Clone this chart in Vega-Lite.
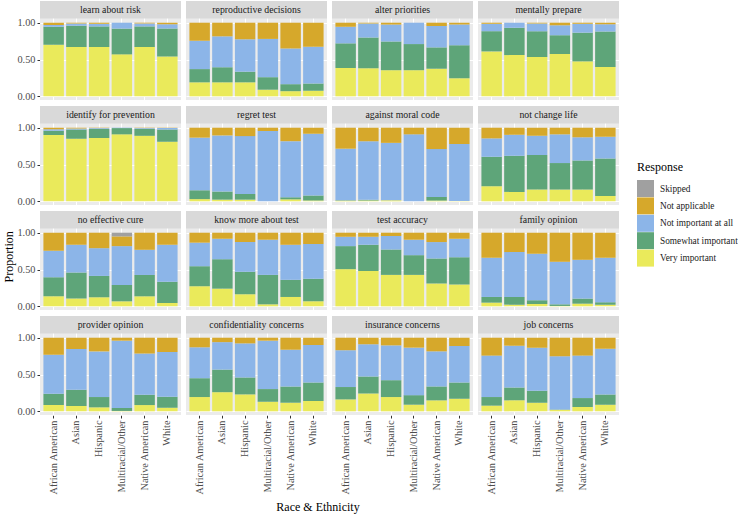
{
  "$schema": "https://vega.github.io/schema/vega-lite/v6.json",
  "background": "white",
  "padding": {"left": 2, "top": 1, "right": 0, "bottom": 3},
  "config": {
    "font": "Liberation Serif",
    "view": {"fill": "#ebebeb", "stroke": null},
    "header": {"labels": false, "title": null, "labelExpr": "''", "labelFontSize": 0, "labelPadding": 0, "titlePadding": 0},
    "axis": {"labelFont": "Liberation Serif", "labelColor": "#4d4d4d", "labelFontSize": 10.3, "tickColor": "#333333", "tickSize": 3, "domain": false, "gridColor": "#ffffff", "gridWidth": 1.1, "labelPadding": 2},
    "legend": {"titleFont": "Liberation Serif", "titleFontSize": 12, "titleFontWeight": "normal", "titleColor": "#000000", "labelFont": "Liberation Serif", "labelFontSize": 9.3, "labelColor": "#1a1a1a", "labelLimit": 200, "symbolType": "square", "symbolSize": 289, "symbolStrokeWidth": 0, "symbolOpacity": 1, "rowPadding": 0.4, "labelOffset": 6, "titlePadding": 6}
  },
  "title": {"text": "Proportion", "orient": "left", "anchor": "middle", "font": "Liberation Serif", "fontSize": 12, "fontWeight": "normal", "color": "#000000", "offset": 1},
  "data": {"values": [
    {"q":"learn about risk","race":"African American","Very important":0.70,"Somewhat important":0.245,"Not important at all":0.025,"Not applicable":0.03},
    {"q":"learn about risk","race":"Asian","Very important":0.67,"Somewhat important":0.29,"Not important at all":0.03,"Not applicable":0.01},
    {"q":"learn about risk","race":"Hispanic","Very important":0.67,"Somewhat important":0.28,"Not important at all":0.035,"Not applicable":0.015},
    {"q":"learn about risk","race":"Multiracial/Other","Very important":0.57,"Somewhat important":0.35,"Not important at all":0.08,"Not applicable":0},
    {"q":"learn about risk","race":"Native American","Very important":0.67,"Somewhat important":0.28,"Not important at all":0.04,"Not applicable":0.01},
    {"q":"learn about risk","race":"White","Very important":0.54,"Somewhat important":0.38,"Not important at all":0.06,"Not applicable":0.02},
    {"q":"reproductive decisions","race":"African American","Very important":0.19,"Somewhat important":0.18,"Not important at all":0.385,"Not applicable":0.245},
    {"q":"reproductive decisions","race":"Asian","Very important":0.19,"Somewhat important":0.205,"Not important at all":0.42,"Not applicable":0.185},
    {"q":"reproductive decisions","race":"Hispanic","Very important":0.19,"Somewhat important":0.145,"Not important at all":0.44,"Not applicable":0.225},
    {"q":"reproductive decisions","race":"Multiracial/Other","Very important":0.09,"Somewhat important":0.17,"Not important at all":0.52,"Not applicable":0.22},
    {"q":"reproductive decisions","race":"Native American","Very important":0.07,"Somewhat important":0.095,"Not important at all":0.485,"Not applicable":0.35},
    {"q":"reproductive decisions","race":"White","Very important":0.075,"Somewhat important":0.10,"Not important at all":0.50,"Not applicable":0.325},
    {"q":"alter priorities","race":"African American","Very important":0.385,"Somewhat important":0.335,"Not important at all":0.225,"Not applicable":0.055},
    {"q":"alter priorities","race":"Asian","Very important":0.38,"Somewhat important":0.42,"Not important at all":0.19,"Not applicable":0.01},
    {"q":"alter priorities","race":"Hispanic","Very important":0.355,"Somewhat important":0.39,"Not important at all":0.23,"Not applicable":0.025},
    {"q":"alter priorities","race":"Multiracial/Other","Very important":0.355,"Somewhat important":0.355,"Not important at all":0.29,"Not applicable":0},
    {"q":"alter priorities","race":"Native American","Very important":0.375,"Somewhat important":0.29,"Not important at all":0.29,"Not applicable":0.045},
    {"q":"alter priorities","race":"White","Very important":0.245,"Somewhat important":0.45,"Not important at all":0.28,"Not applicable":0.025},
    {"q":"mentally prepare","race":"African American","Very important":0.61,"Somewhat important":0.275,"Not important at all":0.10,"Not applicable":0.015},
    {"q":"mentally prepare","race":"Asian","Very important":0.56,"Somewhat important":0.37,"Not important at all":0.07,"Not applicable":0},
    {"q":"mentally prepare","race":"Hispanic","Very important":0.535,"Somewhat important":0.35,"Not important at all":0.105,"Not applicable":0.01},
    {"q":"mentally prepare","race":"Multiracial/Other","Very important":0.575,"Somewhat important":0.255,"Not important at all":0.135,"Not applicable":0.035},
    {"q":"mentally prepare","race":"Native American","Very important":0.475,"Somewhat important":0.39,"Not important at all":0.12,"Not applicable":0.015},
    {"q":"mentally prepare","race":"White","Very important":0.40,"Somewhat important":0.48,"Not important at all":0.10,"Not applicable":0.02},
    {"q":"identify for prevention","race":"African American","Very important":0.90,"Somewhat important":0.06,"Not important at all":0.02,"Not applicable":0.02},
    {"q":"identify for prevention","race":"Asian","Very important":0.85,"Somewhat important":0.125,"Not important at all":0.015,"Not applicable":0.01},
    {"q":"identify for prevention","race":"Hispanic","Very important":0.86,"Somewhat important":0.125,"Not important at all":0.01,"Not applicable":0.005},
    {"q":"identify for prevention","race":"Multiracial/Other","Very important":0.91,"Somewhat important":0.085,"Not important at all":0.005,"Not applicable":0},
    {"q":"identify for prevention","race":"Native American","Very important":0.89,"Somewhat important":0.095,"Not important at all":0.01,"Not applicable":0.005},
    {"q":"identify for prevention","race":"White","Very important":0.81,"Somewhat important":0.165,"Not important at all":0.02,"Not applicable":0.005},
    {"q":"regret test","race":"African American","Very important":0.03,"Somewhat important":0.12,"Not important at all":0.715,"Not applicable":0.135},
    {"q":"regret test","race":"Asian","Very important":0.023,"Somewhat important":0.11,"Not important at all":0.762,"Not applicable":0.105},
    {"q":"regret test","race":"Hispanic","Very important":0.023,"Somewhat important":0.077,"Not important at all":0.786,"Not applicable":0.114},
    {"q":"regret test","race":"Multiracial/Other","Very important":0,"Somewhat important":0,"Not important at all":0.955,"Not applicable":0.045},
    {"q":"regret test","race":"Native American","Very important":0.027,"Somewhat important":0.028,"Not important at all":0.762,"Not applicable":0.183},
    {"q":"regret test","race":"White","Very important":0.01,"Somewhat important":0.068,"Not important at all":0.84,"Not applicable":0.082},
    {"q":"against moral code","race":"African American","Very important":0.01,"Somewhat important":0.005,"Not important at all":0.70,"Not applicable":0.285},
    {"q":"against moral code","race":"Asian","Very important":0.01,"Somewhat important":0.013,"Not important at all":0.794,"Not applicable":0.183},
    {"q":"against moral code","race":"Hispanic","Very important":0.014,"Somewhat important":0,"Not important at all":0.78,"Not applicable":0.206},
    {"q":"against moral code","race":"Multiracial/Other","Very important":0,"Somewhat important":0,"Not important at all":0.91,"Not applicable":0.09},
    {"q":"against moral code","race":"Native American","Very important":0.01,"Somewhat important":0.05,"Not important at all":0.65,"Not applicable":0.29},
    {"q":"against moral code","race":"White","Very important":0.005,"Somewhat important":0,"Not important at all":0.775,"Not applicable":0.22},
    {"q":"not change life","race":"African American","Very important":0.205,"Somewhat important":0.40,"Not important at all":0.25,"Not applicable":0.145},
    {"q":"not change life","race":"Asian","Very important":0.128,"Somewhat important":0.49,"Not important at all":0.285,"Not applicable":0.097},
    {"q":"not change life","race":"Hispanic","Very important":0.16,"Somewhat important":0.47,"Not important at all":0.26,"Not applicable":0.11},
    {"q":"not change life","race":"Multiracial/Other","Very important":0.16,"Somewhat important":0.36,"Not important at all":0.39,"Not applicable":0.09},
    {"q":"not change life","race":"Native American","Very important":0.16,"Somewhat important":0.395,"Not important at all":0.315,"Not applicable":0.13},
    {"q":"not change life","race":"White","Very important":0.073,"Somewhat important":0.51,"Not important at all":0.295,"Not applicable":0.122},
    {"q":"no effective cure","race":"African American","Very important":0.136,"Somewhat important":0.26,"Not important at all":0.36,"Not applicable":0.244},
    {"q":"no effective cure","race":"Asian","Very important":0.105,"Somewhat important":0.355,"Not important at all":0.376,"Not applicable":0.164},
    {"q":"no effective cure","race":"Hispanic","Very important":0.123,"Somewhat important":0.29,"Not important at all":0.377,"Not applicable":0.21},
    {"q":"no effective cure","race":"Multiracial/Other","Very important":0.068,"Somewhat important":0.222,"Not important at all":0.528,"Not applicable":0.132,"Skipped":0.05},
    {"q":"no effective cure","race":"Native American","Very important":0.136,"Somewhat important":0.29,"Not important at all":0.342,"Not applicable":0.232},
    {"q":"no effective cure","race":"White","Very important":0.045,"Somewhat important":0.29,"Not important at all":0.50,"Not applicable":0.165},
    {"q":"know more about test","race":"African American","Very important":0.273,"Somewhat important":0.272,"Not important at all":0.32,"Not applicable":0.135},
    {"q":"know more about test","race":"Asian","Very important":0.24,"Somewhat important":0.40,"Not important at all":0.278,"Not applicable":0.082},
    {"q":"know more about test","race":"Hispanic","Very important":0.164,"Somewhat important":0.305,"Not important at all":0.405,"Not applicable":0.126},
    {"q":"know more about test","race":"Multiracial/Other","Very important":0.027,"Somewhat important":0.40,"Not important at all":0.478,"Not applicable":0.095},
    {"q":"know more about test","race":"Native American","Very important":0.127,"Somewhat important":0.233,"Not important at all":0.476,"Not applicable":0.164},
    {"q":"know more about test","race":"White","Very important":0.068,"Somewhat important":0.305,"Not important at all":0.472,"Not applicable":0.155},
    {"q":"test accuracy","race":"African American","Very important":0.505,"Somewhat important":0.313,"Not important at all":0.127,"Not applicable":0.055},
    {"q":"test accuracy","race":"Asian","Very important":0.48,"Somewhat important":0.355,"Not important at all":0.11,"Not applicable":0.055},
    {"q":"test accuracy","race":"Hispanic","Very important":0.427,"Somewhat important":0.345,"Not important at all":0.183,"Not applicable":0.045},
    {"q":"test accuracy","race":"Multiracial/Other","Very important":0.427,"Somewhat important":0.268,"Not important at all":0.21,"Not applicable":0.095},
    {"q":"test accuracy","race":"Native American","Very important":0.31,"Somewhat important":0.34,"Not important at all":0.223,"Not applicable":0.127},
    {"q":"test accuracy","race":"White","Very important":0.295,"Somewhat important":0.37,"Not important at all":0.254,"Not applicable":0.081},
    {"q":"family opinion","race":"African American","Very important":0.05,"Somewhat important":0.077,"Not important at all":0.533,"Not applicable":0.34},
    {"q":"family opinion","race":"Asian","Very important":0.023,"Somewhat important":0.104,"Not important at all":0.61,"Not applicable":0.263},
    {"q":"family opinion","race":"Hispanic","Very important":0.032,"Somewhat important":0.05,"Not important at all":0.632,"Not applicable":0.286},
    {"q":"family opinion","race":"Multiracial/Other","Very important":0.005,"Somewhat important":0.022,"Not important at all":0.578,"Not applicable":0.395},
    {"q":"family opinion","race":"Native American","Very important":0.036,"Somewhat important":0.069,"Not important at all":0.527,"Not applicable":0.368},
    {"q":"family opinion","race":"White","Very important":0.02,"Somewhat important":0.035,"Not important at all":0.605,"Not applicable":0.34},
    {"q":"provider opinion","race":"African American","Very important":0.085,"Somewhat important":0.155,"Not important at all":0.53,"Not applicable":0.23},
    {"q":"provider opinion","race":"Asian","Very important":0.072,"Somewhat important":0.22,"Not important at all":0.555,"Not applicable":0.153},
    {"q":"provider opinion","race":"Hispanic","Very important":0.054,"Somewhat important":0.14,"Not important at all":0.62,"Not applicable":0.186},
    {"q":"provider opinion","race":"Multiracial/Other","Very important":0.005,"Somewhat important":0.04,"Not important at all":0.915,"Not applicable":0.04},
    {"q":"provider opinion","race":"Native American","Very important":0.085,"Somewhat important":0.14,"Not important at all":0.56,"Not applicable":0.215},
    {"q":"provider opinion","race":"White","Very important":0.05,"Somewhat important":0.148,"Not important at all":0.608,"Not applicable":0.194},
    {"q":"confidentiality concerns","race":"African American","Very important":0.194,"Somewhat important":0.256,"Not important at all":0.42,"Not applicable":0.13},
    {"q":"confidentiality concerns","race":"Asian","Very important":0.26,"Somewhat important":0.307,"Not important at all":0.373,"Not applicable":0.06},
    {"q":"confidentiality concerns","race":"Hispanic","Very important":0.23,"Somewhat important":0.23,"Not important at all":0.463,"Not applicable":0.077},
    {"q":"confidentiality concerns","race":"Multiracial/Other","Very important":0.13,"Somewhat important":0.172,"Not important at all":0.658,"Not applicable":0.04},
    {"q":"confidentiality concerns","race":"Native American","Very important":0.117,"Somewhat important":0.22,"Not important at all":0.50,"Not applicable":0.163},
    {"q":"confidentiality concerns","race":"White","Very important":0.14,"Somewhat important":0.252,"Not important at all":0.508,"Not applicable":0.10},
    {"q":"insurance concerns","race":"African American","Very important":0.162,"Somewhat important":0.168,"Not important at all":0.50,"Not applicable":0.17},
    {"q":"insurance concerns","race":"Asian","Very important":0.243,"Somewhat important":0.23,"Not important at all":0.437,"Not applicable":0.09},
    {"q":"insurance concerns","race":"Hispanic","Very important":0.194,"Somewhat important":0.229,"Not important at all":0.473,"Not applicable":0.104},
    {"q":"insurance concerns","race":"Multiracial/Other","Very important":0.09,"Somewhat important":0.13,"Not important at all":0.645,"Not applicable":0.135},
    {"q":"insurance concerns","race":"Native American","Very important":0.149,"Somewhat important":0.189,"Not important at all":0.477,"Not applicable":0.185},
    {"q":"insurance concerns","race":"White","Very important":0.171,"Somewhat important":0.221,"Not important at all":0.495,"Not applicable":0.113},
    {"q":"job concerns","race":"African American","Very important":0.077,"Somewhat important":0.117,"Not important at all":0.563,"Not applicable":0.243},
    {"q":"job concerns","race":"Asian","Very important":0.149,"Somewhat important":0.175,"Not important at all":0.568,"Not applicable":0.108},
    {"q":"job concerns","race":"Hispanic","Very important":0.117,"Somewhat important":0.162,"Not important at all":0.586,"Not applicable":0.135},
    {"q":"job concerns","race":"Multiracial/Other","Very important":0.02,"Somewhat important":0.005,"Not important at all":0.723,"Not applicable":0.252},
    {"q":"job concerns","race":"Native American","Very important":0.059,"Somewhat important":0.121,"Not important at all":0.577,"Not applicable":0.243},
    {"q":"job concerns","race":"White","Very important":0.09,"Somewhat important":0.14,"Not important at all":0.62,"Not applicable":0.15}
  ]},
  "hconcat": [
    {
      "title": {"text": "Race & Ethnicity", "orient": "bottom", "anchor": "middle", "font": "Liberation Serif", "fontSize": 12, "fontWeight": "normal", "color": "#000000", "offset": 7},
      "facet": {"field": "q", "type": "nominal", "sort": ["learn about risk","reproductive decisions","alter priorities","mentally prepare","identify for prevention","regret test","against moral code","not change life","no effective cure","know more about test","test accuracy","family opinion","provider opinion","confidentiality concerns","insurance concerns","job concerns"], "header": {"labels": false, "title": null, "labelExpr": "''"}},
      "columns": 4,
      "spacing": {"row": 6, "column": 5},
      "spec": {
        "width": 141,
        "height": 99,
        "layer": [
          {
            "transform": [
              {"fold": ["Very important","Somewhat important","Not important at all","Not applicable","Skipped"], "as": ["Response","value"]},
              {"filter": "isValid(datum.value) && datum.value > 0"},
              {"calculate": "indexof(['Very important','Somewhat important','Not important at all','Not applicable','Skipped'], datum.Response)", "as": "rank"}
            ],
            "mark": {"type": "bar"},
            "encoding": {
              "x": {"field": "race", "type": "nominal", "sort": ["African American","Asian","Hispanic","Multiracial/Other","Native American","White"], "scale": {"paddingInner": 0.1, "paddingOuter": 0.15}, "axis": {"title": null, "labelAngle": 270, "grid": true, "labelFont": "Liberation Serif"}},
              "y": {"field": "value", "type": "quantitative", "stack": "normalize", "scale": {"domain": [-0.05, 1.295], "nice": false, "zero": false}, "axis": {"title": null, "values": [0, 0.25, 0.5, 0.75, 1], "labelExpr": "format(datum.value, '.2f')", "grid": true, "labelFont": "Liberation Serif"}},
              "color": {"field": "Response", "type": "nominal", "scale": {"domain": ["Skipped","Not applicable","Not important at all","Somewhat important","Very important"], "range": ["#a0a0a0","#d6a82b","#8cb5e8","#5ea579","#eaea5b"]}, "legend": {"title": "Response", "orient": "none", "legendX": 597, "legendY": 161}},
              "order": {"field": "rank", "type": "quantitative"}
            }
          },
          {
            "transform": [{"aggregate": [{"op": "count", "as": "n"}], "groupby": ["q"]}],
            "mark": {"type": "rect", "color": "#d9d9d9"},
            "encoding": {"y": {"datum": 1.058}, "y2": {"datum": 1.295}}
          },
          {
            "transform": [{"aggregate": [{"op": "count", "as": "n"}], "groupby": ["q"]}],
            "mark": {"type": "text", "font": "Liberation Serif", "fontSize": 9.8, "color": "#1a1a1a", "baseline": "middle"},
            "encoding": {"y": {"datum": 1.178}, "text": {"field": "q"}}
          }
        ]
      }
    }
  ]
}
